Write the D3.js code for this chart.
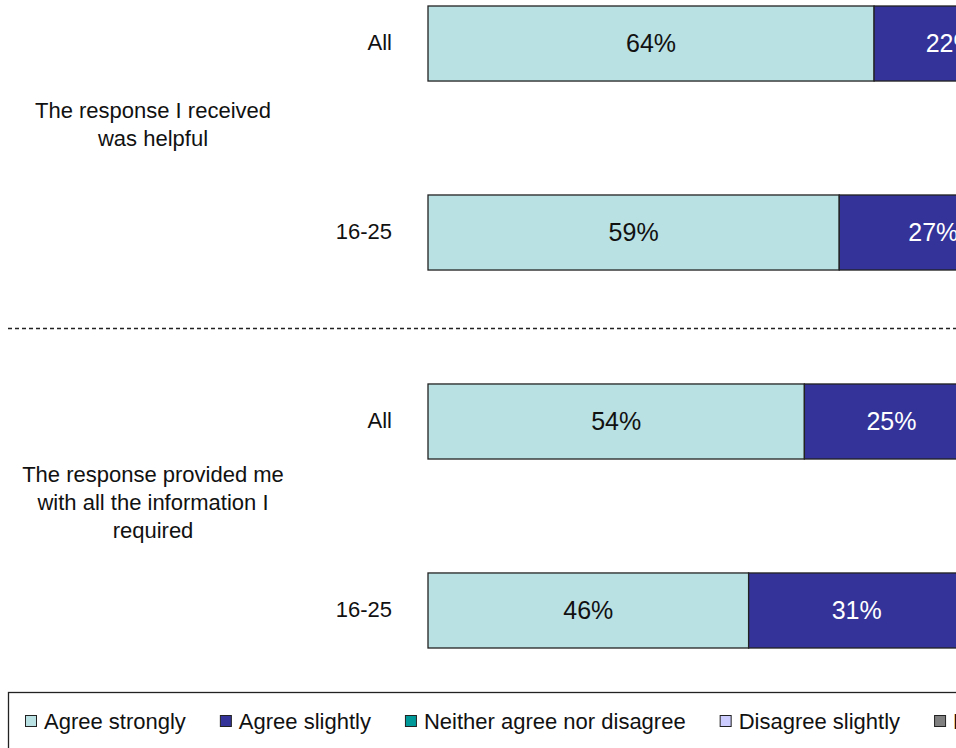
<!DOCTYPE html>
<html>
<head>
<meta charset="utf-8">
<script src="https://cdnjs.cloudflare.com/ajax/libs/d3/7.8.5/d3.min.js"></script>
<style>
  body { margin: 0; background: #fff; }
  svg { display: block; font-family: "Liberation Sans", Arial, sans-serif; }
</style>
</head>
<body>
<svg id="chart" width="956" height="748"></svg>
<script>
// statements (each spans two rows), row labels and response shares in %
var statements = [
    ['The response I received', 'was helpful'],
    ['The response provided me', 'with all the information I', 'required']
];
var rowLabels = ['All', '16-25', 'All', '16-25'];
var categories = ['Agree strongly', 'Agree slightly', 'Neither agree nor disagree', 'Disagree slightly', 'Disagree strongly'];
var agreeStrongly = [64, 59, 54, 46];
var agreeSlightly = [22, 27, 25, 31];
var neither = [6, 7, 10, 11];
var disagreeSlightly = [4, 4, 6, 7];
var disagreeStrongly = [4, 3, 5, 5];
var COLS = ['#b9e0e3', '#333399', '#009999', '#ccccff', '#808080'];

(function() {
    'use strict';
    var svg = d3.select('#chart'),
    series = [agreeStrongly, agreeSlightly, neither, disagreeSlightly, disagreeStrongly],
    rows = rowLabels.map(function(l, i) {
        var r = {label: l, i: i};
        categories.forEach(function(c, k) { r[c] = series[k][i]; });
        return r;
    }),
    stacked = d3.stack().keys(categories)(rows),
    x = d3.scaleLinear().domain([0, 100]).range([428, 428 + 697]),
    y = d3.scaleBand().domain(d3.range(rows.length)).range([6, 648]).paddingInner(0.603).paddingOuter(0);

    var layers = svg.append('g').selectAll('g').data(stacked).enter().append('g')
        .attr('fill', function(d, i) { return COLS[i]; });

    layers.selectAll('rect').data(function(d) { return d; }).enter().append('rect')
        .attr('x', function(d) { return x(d[0]); })
        .attr('y', function(d, i) { return y(i); })
        .attr('width', function(d) { return x(d[1]) - x(d[0]); })
        .attr('height', y.bandwidth())
        .attr('stroke', '#222')
        .attr('stroke-width', 1.3);

    layers.selectAll('text').data(function(d) { return d; }).enter().append('text')
        .attr('x', function(d) { return (x(d[0]) + x(d[1])) / 2; })
        .attr('y', function(d, i) { return y(i) + y.bandwidth() / 2; })
        .attr('dy', '0.35em')
        .attr('text-anchor', 'middle')
        .attr('font-size', 25)
        .attr('fill', function() {
            var k = d3.select(this.parentNode).datum().index;
            return (k === 1 || k === 4) ? '#fff' : '#111';
        })
        .text(function(d) { return (d[1] - d[0]) + '%'; });

    // row labels
    svg.append('g').selectAll('text').data(rowLabels).enter().append('text')
        .attr('x', 392)
        .attr('y', function(d, i) { return y(i) + y.bandwidth() / 2 - 1.5; })
        .attr('dy', '0.35em')
        .attr('text-anchor', 'end')
        .attr('font-size', 22)
        .attr('fill', '#111')
        .text(function(d) { return d; });

    // statement labels
    statements.forEach(function(lines, g) {
        var mid = (y(g * 2) + y(g * 2 + 1) + y.bandwidth()) / 2 - 14,
        top = mid - (lines.length - 1) * 28 / 2;
        svg.append('text')
            .attr('text-anchor', 'middle')
            .attr('font-size', 22)
            .attr('fill', '#111')
            .selectAll('tspan').data(lines).enter().append('tspan')
            .attr('x', 153)
            .attr('y', function(d, i) { return top + i * 28; })
            .attr('dy', '0.35em')
            .text(function(d) { return d; });
    });

    // divider between statements
    var divY = (y(1) + y.bandwidth() + y(2)) / 2 + 1.5;
    svg.append('line')
        .attr('x1', 8).attr('x2', 956)
        .attr('y1', divY).attr('y2', divY)
        .attr('stroke', '#222')
        .attr('stroke-width', 1.3)
        .attr('stroke-dasharray', '4,3');

    // legend
    svg.append('rect')
        .attr('x', 8.5).attr('y', 692.5)
        .attr('width', 1100).attr('height', 100)
        .attr('fill', 'none').attr('stroke', '#222').attr('stroke-width', 1.3);

    var lx = 25;
    categories.forEach(function(c, i) {
        svg.append('rect')
            .attr('x', lx + 0.5).attr('y', 715.5)
            .attr('width', 11).attr('height', 11)
            .attr('fill', COLS[i]).attr('stroke', '#222').attr('stroke-width', 1);
        var t = svg.append('text')
            .attr('x', lx + 19).attr('y', 721)
            .attr('dy', '0.35em')
            .attr('font-size', 22)
            .attr('fill', '#111')
            .text(c);
        lx += 19 + t.node().getComputedTextLength() + 34;
    });
}());
</script>
</body>
</html>
